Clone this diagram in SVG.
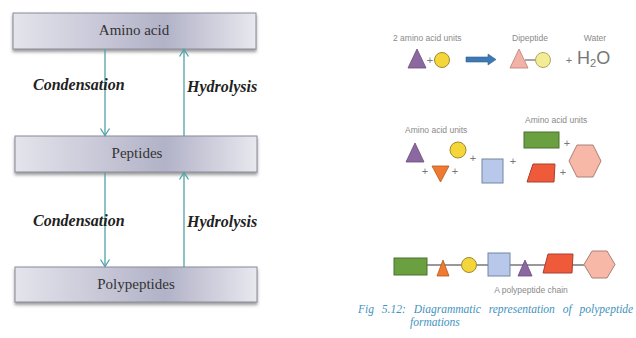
<svg xmlns="http://www.w3.org/2000/svg" width="636" height="338" viewBox="0 0 636 338">
<defs>
<linearGradient id="boxg" x1="0" y1="0" x2="1" y2="0">
<stop offset="0" stop-color="#e4e4ec"/>
<stop offset="0.62" stop-color="#b2b2c8"/>
<stop offset="1" stop-color="#e8e8ef"/>
</linearGradient>
<filter id="sh" x="-5%" y="-20%" width="110%" height="150%">
<feDropShadow dx="0" dy="2.5" stdDeviation="1.5" flood-color="#555" flood-opacity="0.6"/>
</filter>
<marker id="ah" markerWidth="12" markerHeight="12" refX="10" refY="6" orient="auto" markerUnits="userSpaceOnUse">
<path d="M3,1.5 L10,6 L3,10.5" fill="none" stroke="#4fa2a8" stroke-width="1.3"/>
</marker>
</defs>
<style>
.box{fill:url(#boxg);stroke:#8a8a9a;stroke-width:1;filter:url(#sh)}
.bt{font-family:"Liberation Serif",serif;font-size:15px;fill:#333;text-anchor:middle}
.lab{font-family:"Liberation Serif",serif;font-size:16px;font-weight:bold;font-style:italic;fill:#222}
.con{stroke:#4fa2a8;stroke-width:1.3;fill:none;marker-end:url(#ah)}
.sm{font-family:"Liberation Sans",Arial,sans-serif;font-size:8.5px;fill:#8a8a8a}
.pl{font-family:"Liberation Sans",Arial,sans-serif;font-size:11px;fill:#777}
.ch{stroke:#777;stroke-width:1.3}
.cap{font-family:"Liberation Serif",serif;font-size:11.5px;font-style:italic;fill:#3f93bd}
</style>
<rect width="636" height="338" fill="#ffffff"/>

<g id="node-amino-acid">
<rect class="box" x="13" y="13" width="243" height="36"/>
<text class="bt" x="134" y="35">Amino acid</text>
</g>
<g id="node-peptides">
<rect class="box" x="15" y="136" width="242" height="36"/>
<text class="bt" x="137" y="158">Peptides</text>
</g>
<g id="node-polypeptides">
<rect class="box" x="15" y="267" width="242" height="35"/>
<text class="bt" x="136" y="289">Polypeptides</text>
</g>

<g id="connectors">
<line class="con" x1="105" y1="49" x2="105" y2="135.5"/>
<line class="con" x1="184" y1="136" x2="184" y2="49.5"/>
<line class="con" x1="105" y1="172" x2="105" y2="266.5"/>
<line class="con" x1="184" y1="267" x2="184" y2="172.5"/>
<text class="lab" x="33" y="90">Condensation</text>
<text class="lab" x="187" y="92">Hydrolysis</text>
<text class="lab" x="33" y="226">Condensation</text>
<text class="lab" x="187" y="227">Hydrolysis</text>
</g>

<g id="dipeptide-reaction">
<text class="sm" x="393" y="41">2 amino acid units</text>
<polygon points="417,49 408,68 426,68" fill="#8c68a0" stroke="#6a4a7c" stroke-width="0.8"/>
<text class="pl" x="430" y="64" text-anchor="middle">+</text>
<circle cx="442" cy="60" r="7.5" fill="#f5d63a" stroke="#a08a30" stroke-width="1"/>
<path d="M466,57 L488,57 L488,54 L496,59.5 L488,65 L488,62 L466,62 Z" fill="#3d7ab5" stroke="#2f5f90" stroke-width="0.6"/>
<text class="sm" x="530" y="41" text-anchor="middle">Dipeptide</text>
<polygon points="519,49 510,68 528,68" fill="#f2b2a8" stroke="#c08880" stroke-width="0.9"/>
<line class="ch" x1="525" y1="60" x2="536" y2="60"/>
<circle cx="543" cy="60" r="7.5" fill="#f3ec94" stroke="#b0a860" stroke-width="1"/>
<text class="sm" x="595" y="41" text-anchor="middle">Water</text>
<text class="pl" x="569" y="64" text-anchor="middle">+</text>
<text x="577" y="64" font-family="Liberation Sans,Arial,sans-serif" font-size="18" fill="#777">H<tspan font-size="11" dy="3">2</tspan><tspan dy="-3">O</tspan></text>
</g>

<g id="amino-acid-units">
<text class="sm" x="405" y="133">Amino acid units</text>
<polygon points="415,143 406,162 424,162" fill="#8c68a0" stroke="#6a4a7c" stroke-width="0.8"/>
<circle cx="458" cy="150" r="8" fill="#f5d63a" stroke="#a08a30" stroke-width="1"/>
<text class="pl" x="425" y="175" text-anchor="middle">+</text>
<polygon points="432,166 449,166 440.5,182" fill="#f07a30" stroke="#b05a20" stroke-width="0.8"/>
<text class="pl" x="455" y="175" text-anchor="middle">+</text>
<text class="pl" x="473" y="162" text-anchor="middle">+</text>
<rect x="482" y="159" width="21" height="24" fill="#b8c8ea" stroke="#7585a2" stroke-width="1"/>
<text class="pl" x="513" y="165" text-anchor="middle">+</text>
<text class="sm" x="525" y="123">Amino acid units</text>
<rect x="524" y="132" width="35" height="16" fill="#6aa040" stroke="#4a7030" stroke-width="1"/>
<text class="pl" x="567" y="147" text-anchor="middle">+</text>
<polygon points="533,164 555,164 554,182 527,182" fill="#ee5a3a" stroke="#a84030" stroke-width="1"/>
<text class="pl" x="563" y="176" text-anchor="middle">+</text>
<polygon points="569,161 577,145 593,145 601,161 593,177 577,177" fill="#f7b8a8" stroke="#a88078" stroke-width="1"/>
</g>

<g id="polypeptide-chain">
<line class="ch" x1="427" y1="265" x2="584" y2="265"/>
<rect x="394" y="258" width="33" height="17" fill="#6aa040" stroke="#4a7030" stroke-width="1"/>
<polygon points="443,260 437,276 449,276" fill="#f07a30" stroke="#b05a20" stroke-width="0.8"/>
<circle cx="469" cy="265" r="7.5" fill="#f5d63a" stroke="#a08a30" stroke-width="1"/>
<rect x="488" y="253" width="22" height="23" fill="#b8c8ea" stroke="#7585a2" stroke-width="1"/>
<polygon points="525,260 518,276 532,276" fill="#8c68a0" stroke="#6a4a7c" stroke-width="0.8"/>
<polygon points="548,254 573,254 572,273 543,273" fill="#ee5a3a" stroke="#a84030" stroke-width="1"/>
<polygon points="584,264.5 592,251 607,251 615,264.5 607,278 592,278" fill="#f7b8a8" stroke="#a88078" stroke-width="1"/>
<text class="sm" x="531" y="293" text-anchor="middle">A polypeptide chain</text>
</g>

<g id="caption">
<text class="cap" x="358" y="313" word-spacing="5">Fig 5.12: Diagrammatic representation of polypeptide</text>
<text class="cap" x="410" y="326">formations</text>
</g>
</svg>
